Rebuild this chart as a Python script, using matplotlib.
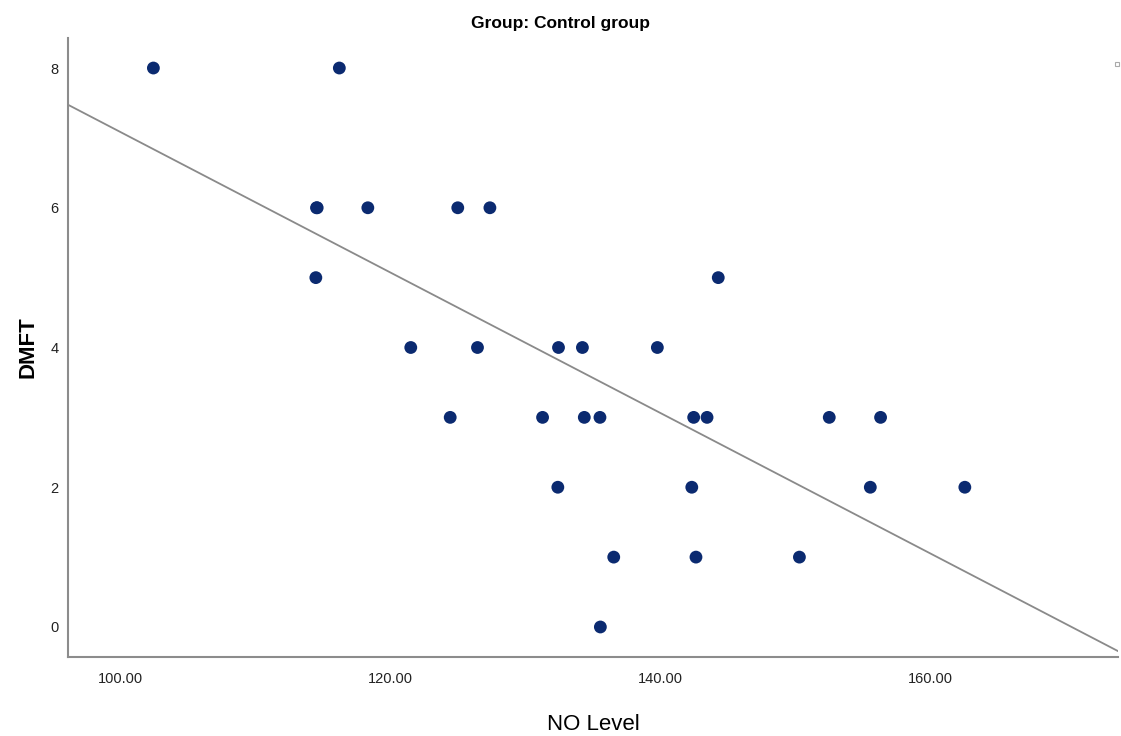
import matplotlib
matplotlib.use("Agg")
import matplotlib.pyplot as plt
import numpy as np

# NO level vs DMFT
noLevel = [102.47, 116.24,
           114.55, 114.60, 118.35, 125.01, 127.39,
           114.50, 144.30,
           121.53, 126.47, 132.47, 134.24, 139.79,
           124.45, 131.29, 134.38, 135.54, 142.48, 143.47, 152.52, 156.32,
           132.42, 142.34, 155.56, 162.56,
           136.56, 142.65, 150.31,
           135.57]
dmft = [8, 8,
        6, 6, 6, 6, 6,
        5, 5,
        4, 4, 4, 4, 4,
        3, 3, 3, 3, 3, 3, 3, 3,
        2, 2, 2, 2,
        1, 1, 1,
        0]
xTicks = [100, 120, 140, 160]
yTicks = [0, 2, 4, 6, 8]

plt.rcParams['font.family'] = ['Liberation Sans Narrow', 'Liberation Sans', 'DejaVu Sans']

fig = plt.figure(figsize=(11.21, 7.36), dpi=100)
ax = fig.add_axes([0.0607, 0.1073, 0.9366, 0.8411])

x = np.array(noLevel)
y = np.array(dmft)
ax.scatter(x, y, s=85, c='#0b2a70', edgecolors='none', zorder=3)

# least squares fit line across the whole x range
slope, intercept = np.polyfit(x, y, 1)
xlim = (96.15, 173.9)
xs = np.array(xlim)
ax.plot(xs, slope * xs + intercept, color='#8a8a8a', linewidth=1.3, zorder=2)

ax.set_xlim(xlim)
ax.set_ylim(-0.43, 8.43)
ax.set_xticks(xTicks)
ax.set_xticklabels(["%.2f" % v for v in xTicks])
ax.set_yticks(yTicks)
ax.tick_params(axis='x', length=0, labelsize=10.5, colors='#222222', pad=11)
ax.tick_params(axis='y', length=0, labelsize=10.5, colors='#222222', pad=7)

for side in ['top', 'right']:
    ax.spines[side].set_visible(False)
for side in ['left', 'bottom']:
    ax.spines[side].set_color('#8c8c8c')
    ax.spines[side].set_linewidth(1.5)

fig.text(0.5, 0.968, "Group: Control group", fontsize=12.5, fontweight='bold',
         ha='center', va='center')
ax.set_xlabel("NO Level", fontsize=16, labelpad=20)
ax.set_ylabel("DMFT", fontsize=16, fontweight='bold', labelpad=8)

# little legend square at top right
ax.plot([0.9995], [0.958], marker='s', markersize=3, markerfacecolor='white',
        markeredgecolor='#aaaaaa', markeredgewidth=0.8, transform=ax.transAxes, clip_on=False)

fig.savefig("out.png", dpi=100)
